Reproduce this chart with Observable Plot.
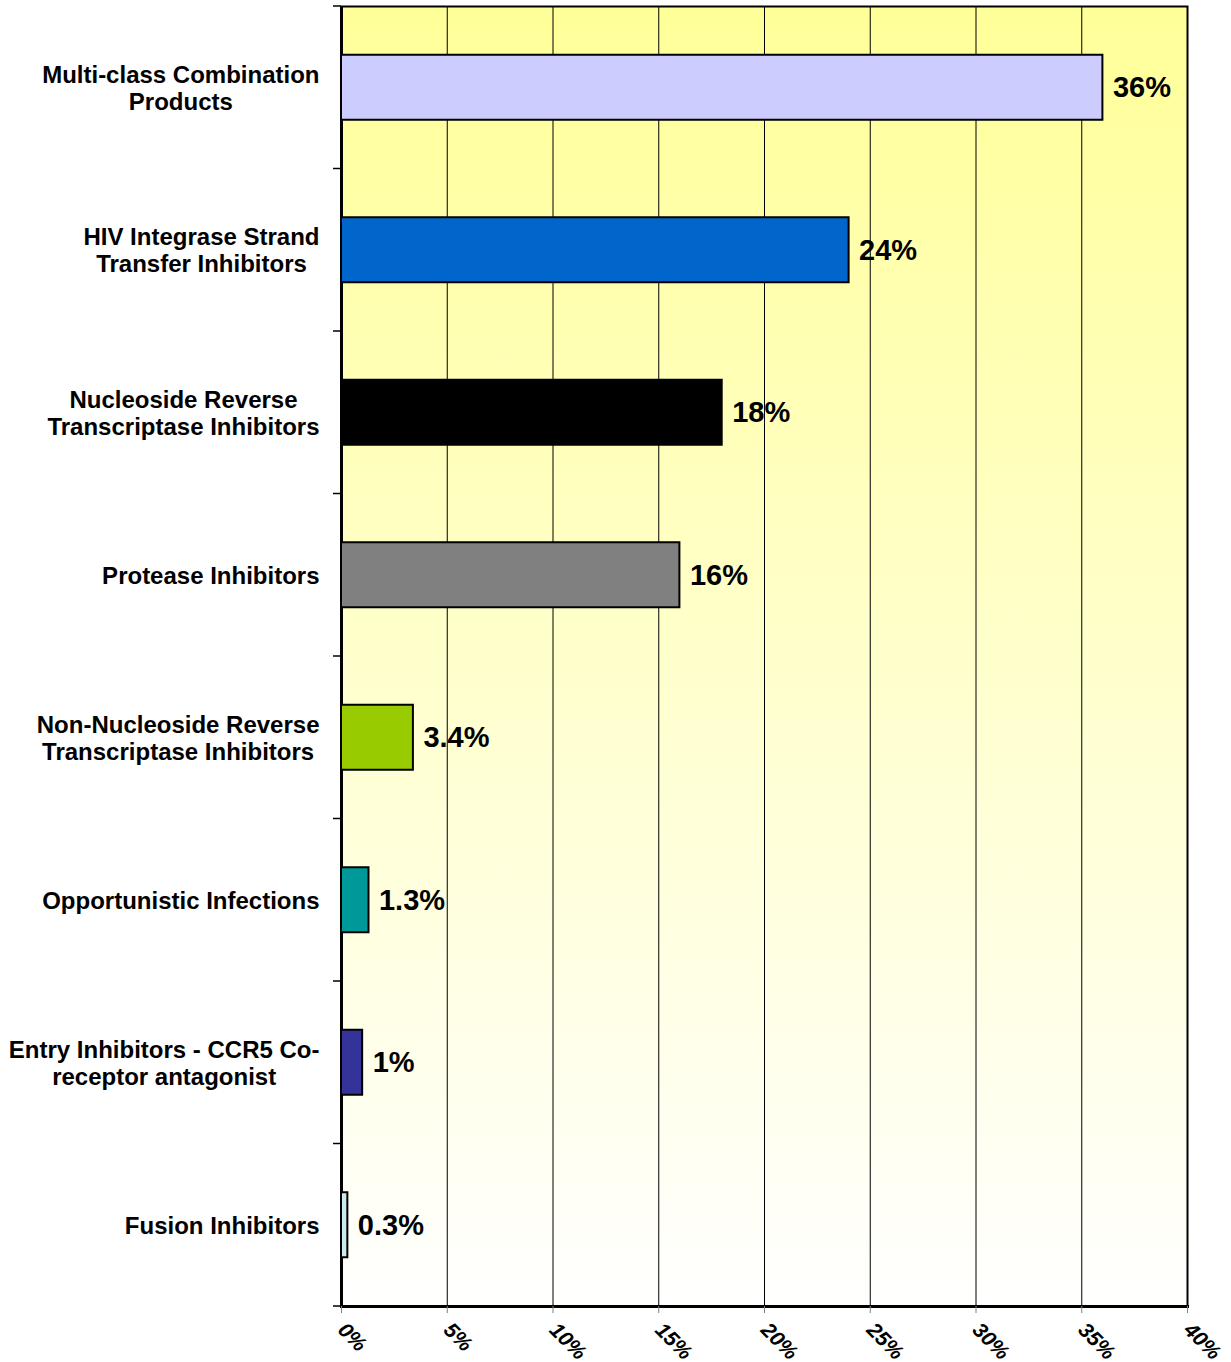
<!DOCTYPE html>
<html><head><meta charset="utf-8">
<script src="https://cdn.jsdelivr.net/npm/d3@7"></script>
<script src="https://cdn.jsdelivr.net/npm/@observablehq/plot@0.6"></script>
<style>
body{margin:0;background:#fff}
#chart{position:absolute;left:0;top:0}
</style>
</head><body><div id="chart"></div>
<script>
const categories = [
  "Multi-class Combination\nProducts",
  "HIV Integrase Strand\nTransfer Inhibitors",
  "Nucleoside Reverse\nTranscriptase Inhibitors",
  "Protease Inhibitors",
  "Non-Nucleoside Reverse\nTranscriptase Inhibitors",
  "Opportunistic Infections",
  "Entry Inhibitors - CCR5 Co-\nreceptor antagonist",
  "Fusion Inhibitors"
];
const values = [0.36, 0.24, 0.18, 0.16, 0.034, 0.013, 0.01, 0.003];
const valueLabels = ["36%", "24%", "18%", "16%", "3.4%", "1.3%", "1%", "0.3%"];
const colors = ["#CCCCFF", "#0066CC", "#000000", "#808080", "#99CC00", "#009999", "#333399", "#CCECEC"];
const xTicks = [0, 0.05, 0.10, 0.15, 0.20, 0.25, 0.30, 0.35, 0.40];
const xTickLabels = ["0%", "5%", "10%", "15%", "20%", "25%", "30%", "35%", "40%"];

const data = categories.map((c, i) => ({category: c, value: values[i], label: valueLabels[i]}));
const font = "'Liberation Sans', Arial, Helvetica, sans-serif";

const chart = Plot.plot({
  width: 1231,
  height: 1362,
  marginLeft: 341,
  marginRight: 44,
  marginTop: 6,
  marginBottom: 56,
  style: {fontFamily: font, background: "transparent", overflow: "visible", color: "#000"},
  x: {domain: [0, 0.4], label: null},
  y: {domain: categories, paddingInner: 0.6, paddingOuter: 0.3, round: false, label: null},
  color: {domain: categories, range: colors},
  marks: [
    Plot.frame({fill: "url(#bgGrad)", stroke: null}),
    Plot.gridX(xTicks, {stroke: "#000", strokeOpacity: 1, strokeWidth: 1}),
    Plot.frame({stroke: "#000", strokeWidth: 2}),
    Plot.ruleX([0], {stroke: "#000", strokeWidth: 3}),
    Plot.frame({anchor: "bottom", stroke: "#000", strokeWidth: 3}),
    Plot.barX(data, {x: "value", y: "category", fill: "category", stroke: "#000", strokeWidth: 2}),
    Plot.text(data, {x: "value", y: "category", text: "label", textAnchor: "start", dx: 10, dy: 0, fontSize: 29, fontWeight: "bold", fill: "#000"}),
    Plot.axisY({tickSize: 0, tickPadding: 22, fontSize: 24, fontWeight: "bold", lineHeight: 1.13, fill: "#000"}),
    Plot.axisX({ticks: xTicks, tickFormat: (d) => xTickLabels[xTicks.indexOf(d)], tickRotate: 45, tickSize: 7, stroke: "#808080", tickPadding: 13, fontSize: 21, fontWeight: "bold", fontStyle: "italic", fill: "#000"})
  ]
});

document.getElementById("chart").appendChild(chart);

const svg = d3.select(chart);
const defs = svg.insert("defs", ":first-child");
const grad = defs.append("linearGradient").attr("id", "bgGrad").attr("x1", 0).attr("y1", 0).attr("x2", 0).attr("y2", 1);
grad.append("stop").attr("offset", "0%").attr("stop-color", "#FFFF99");
grad.append("stop").attr("offset", "100%").attr("stop-color", "#FFFFFF");

// center multi-line y labels on each other, right-aligned block
const yg = chart.querySelector('g[aria-label="y-axis tick label"]');
if (yg) {
  const texts = Array.from(yg.querySelectorAll("text"));
  const widths = texts.map(t => t.getBBox().width);
  yg.setAttribute("text-anchor", "middle");
  texts.forEach((t, i) => {
    const old = t.getAttribute("transform") || "";
    t.setAttribute("transform", old + ` translate(${-widths[i] / 2},0)`);
  });
}

// category boundary ticks on the left axis
const ys = chart.scale("y");
const xs = chart.scale("x");
const gap = (ys.step - ys.bandwidth) / 2;
const bounds = categories.map(c => ys.apply(c) - gap);
bounds.push(ys.apply(categories[categories.length - 1]) + ys.bandwidth + gap);
const x0 = xs.apply(0);
svg.append("g").selectAll("line").data(bounds).join("line")
  .attr("x1", x0 - 8).attr("x2", x0).attr("y1", d => d).attr("y2", d => d)
  .attr("stroke", "#000").attr("stroke-width", 1.5);
</script>
</body></html>
